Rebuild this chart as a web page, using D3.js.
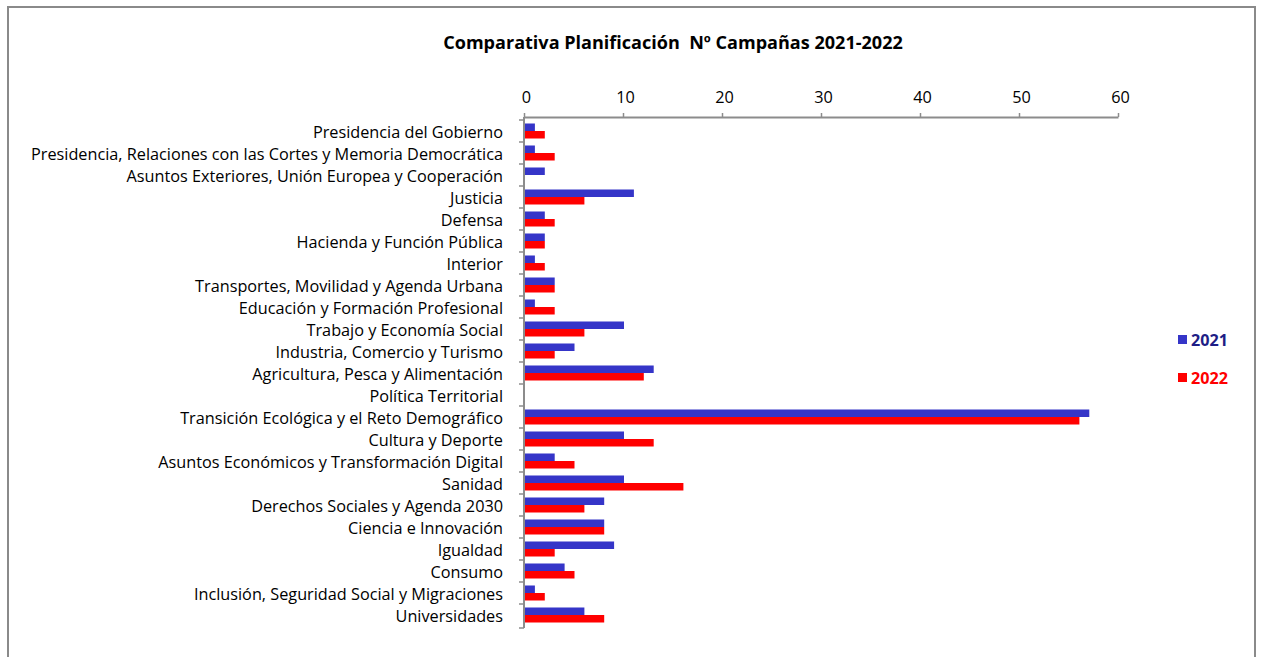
<!DOCTYPE html>
<html>
<head>
<meta charset="utf-8">
<script src="https://cdn.jsdelivr.net/npm/d3@7"></script>
<style>
  html, body { margin: 0; padding: 0; background: #fff; }
  svg { display: block; font-family: "Open Sans", sans-serif; }
  text { white-space: pre; }
</style>
</head>
<body>
<svg id="chart" width="1261" height="657"></svg>
<script>
// Ministries (categories), top to bottom
const categories = [
  "Presidencia del Gobierno",
  "Presidencia, Relaciones con las Cortes y Memoria Democrática",
  "Asuntos Exteriores, Unión Europea y Cooperación",
  "Justicia",
  "Defensa",
  "Hacienda y Función Pública",
  "Interior",
  "Transportes, Movilidad y Agenda Urbana",
  "Educación y Formación Profesional",
  "Trabajo y Economía Social",
  "Industria, Comercio y Turismo",
  "Agricultura, Pesca y Alimentación",
  "Política Territorial",
  "Transición Ecológica y el Reto Demográfico",
  "Cultura y Deporte",
  "Asuntos Económicos y Transformación Digital",
  "Sanidad",
  "Derechos Sociales y Agenda 2030",
  "Ciencia e Innovación",
  "Igualdad",
  "Consumo",
  "Inclusión, Seguridad Social y Migraciones",
  "Universidades"
];

// Number of campaigns per year
const values2021 = [1, 1, 2, 11, 2, 2, 1, 3, 1, 10, 5, 13, 0, 57, 10, 3, 10, 8, 8, 9, 4, 1, 6];
const values2022 = [2, 3, 0, 6, 3, 2, 2, 3, 3, 6, 3, 12, 0, 56, 13, 5, 16, 6, 8, 3, 5, 2, 8];

const seriesNames = ["2021", "2022"];
const xTicks = [0, 10, 20, 30, 40, 50, 60];
const title = "Comparativa Planificación  Nº Campañas 2021-2022";

const colors = { "2021": "#3535c8", "2022": "#ff0000" };
const legendText = { "2021": "#1e1e86", "2022": "#ff0000" };

const svg = d3.select("#chart");

// shrink/grow a text run so it fills a given width
function fitWidth(sel, width) {
  const node = sel.node();
  const fs = parseFloat(sel.attr("font-size"));
  const w = node.getComputedTextLength();
  sel.attr("font-size", (fs * width / w).toFixed(2));
  return fs * width / w;
}

// outer frame
svg.append("rect")
  .attr("x", 8).attr("y", 7)
  .attr("width", 1247).attr("height", 700)
  .attr("fill", "#fff")
  .attr("stroke", "#8a8a8a").attr("stroke-width", 2);

const titleText = svg.append("text")
  .attr("x", 673).attr("y", 49)
  .attr("text-anchor", "middle")
  .attr("font-weight", "bold")
  .attr("font-size", 16)
  .attr("fill", "#000")
  .text(title);
fitWidth(titleText, 460);

const plot = { left: 524, right: 1118, top: 120, bottom: 626 };

const x = d3.scaleLinear().domain([0, 60]).range([plot.left, plot.right]);
const y = d3.scaleBand().domain(categories).range([plot.top, plot.bottom]).paddingInner(0).paddingOuter(0);
const sub = d3.scaleBand().domain(seriesNames).range([y.bandwidth() / 2 - 7.5, y.bandwidth() / 2 + 7.5]);

const defs = svg.append("defs");
const f = defs.append("filter").attr("id", "soft").attr("x", "-5%").attr("y", "-50%").attr("width", "110%").attr("height", "200%");
f.append("feGaussianBlur").attr("stdDeviation", 0.6);

// label font size from the longest category name
const probe = svg.append("text").attr("font-size", 14).text(categories[1]);
const labelSize = fitWidth(probe, 472);
probe.remove();

// top axis
const xAxis = d3.axisTop(x).tickValues(xTicks).tickSize(4).tickSizeOuter(0).tickPadding(10);
const gx = svg.append("g").attr("transform", `translate(0,${plot.top - 3})`).call(xAxis);
gx.select(".domain").attr("stroke", "#8c8c8c").attr("stroke-width", 2);
gx.selectAll(".tick line").attr("stroke", "#8c8c8c").attr("stroke-width", 1.5);
gx.selectAll(".tick text").attr("font-size", labelSize).attr("fill", "#000")
  .attr("font-family", "'Open Sans', sans-serif").attr("dx", 2);

// left axis with ticks between categories
const gy = svg.append("g");
gy.append("line")
  .attr("x1", plot.left).attr("x2", plot.left)
  .attr("y1", plot.top - 3).attr("y2", plot.bottom + 2)
  .attr("stroke", "#8c8c8c").attr("stroke-width", 2);
const boundaries = categories.map(c => y(c)).concat([plot.bottom + 2]);
gy.selectAll("line.tk").data(boundaries).join("line")
  .attr("class", "tk")
  .attr("x1", plot.left - 5).attr("x2", plot.left)
  .attr("y1", d => d).attr("y2", d => d)
  .attr("stroke", "#8c8c8c").attr("stroke-width", 1.5);

gy.selectAll("text.cat").data(categories).join("text")
  .attr("class", "cat")
  .attr("x", plot.left - 21)
  .attr("y", d => y(d) + y.bandwidth() / 2)
  .attr("dy", "0.45em")
  .attr("text-anchor", "end")
  .attr("font-size", labelSize)
  .attr("fill", "#000")
  .text(d => d);

// bars
const rows = categories.map((c, i) => ({ c, "2021": values2021[i], "2022": values2022[i] }));
const gBars = svg.append("g").attr("filter", "url(#soft)");
seriesNames.forEach(s => {
  gBars.selectAll(`rect.b${s}`).data(rows).join("rect")
    .attr("class", `b${s}`)
    .attr("x", x(0) + 1)
    .attr("y", d => y(d.c) + sub(s))
    .attr("width", d => Math.max(0, x(d[s]) - x(0)))
    .attr("height", sub.bandwidth())
    .attr("fill", colors[s]);
});

// legend
const legend = svg.append("g");
seriesNames.forEach((s, i) => {
  const ly = 340 + i * 38;
  legend.append("rect")
    .attr("x", 1178).attr("y", ly - 5)
    .attr("width", 9).attr("height", 9)
    .attr("fill", colors[s]);
  const t = legend.append("text")
    .attr("x", 1191).attr("y", ly)
    .attr("dy", "0.38em")
    .attr("font-size", 14.5)
    .attr("font-weight", "bold")
    .attr("fill", legendText[s])
    .text(s);
  fitWidth(t, 37);
});
</script>
</body>
</html>
